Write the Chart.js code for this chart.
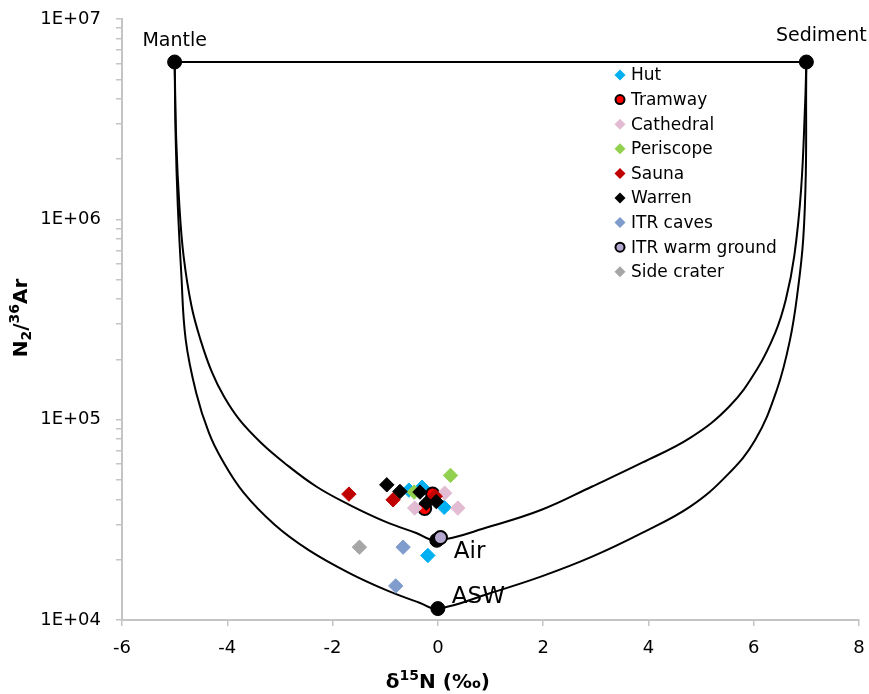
<!DOCTYPE html>
<html>
<head>
<meta charset="utf-8">
<script src="https://cdn.jsdelivr.net/npm/chart.js@4.4.1/dist/chart.umd.min.js"></script>
<style>
  html, body { margin: 0; padding: 0; background: #fff; }
  #wrap { width: 869px; height: 694px; }
</style>
</head>
<body>
<div id="wrap"><canvas id="c" width="869" height="694"></canvas></div>
<script>
// δ15N (‰) / N2/36Ar
const hutX = [-0.55, -0.3, 0.12, -0.19];
const hutY = [4.45e4, 4.6e4, 3.65e4, 2.1e4];
const tramwayX = [-0.1, -0.25];
const tramwayY = [4.25e4, 3.6e4];
const cathedralX = [-0.44, 0.13, 0.38];
const cathedralY = [3.62e4, 4.3e4, 3.62e4];
const periscopeX = [0.24, -0.45];
const periscopeY = [5.27e4, 4.35e4];
const saunaX = [-1.69, -0.85, -0.05];
const saunaY = [4.25e4, 3.98e4, 4.15e4];
const warrenX = [-0.97, -0.72, -0.34, -0.22, -0.03];
const warrenY = [4.73e4, 4.38e4, 4.35e4, 3.83e4, 3.9e4];
const itrCavesX = [-0.66, -0.8];
const itrCavesY = [2.31e4, 1.48e4];
const itrWarmX = [0.05];
const itrWarmY = [2.58e4];
const sideCraterX = [-1.49];
const sideCraterY = [2.31e4];

// end members
const endNames = ["Mantle", "Sediment", "Air", "ASW"];
const endX = [-5, 7, -0.02, 0];
const endY = [6.1e6, 6.1e6, 2.5e4, 1.14e4];

// mixing curves
const airCurveX = [-5, -4.97, -4.91, -4.83, -4.68, -4.51, -4.29, -4.06, -3.77, -3.36, -2.92, -2.31, -1.68, -1.0, -0.41, -0.02,
  0.99, 1.97, 2.93, 3.88, 4.8, 5.54, 6.06, 6.41, 6.61, 6.77, 6.9, 6.975, 7];
const airCurveY = [6.1e6, 2.51e6, 1.17e6, 6.55e5, 3.69e5, 2.51e5, 1.72e5, 1.30e5, 1.0e5, 7.67e4, 6.10e4, 4.64e4, 3.76e4, 3.10e4, 2.72e4, 2.5e4,
  2.93e4, 3.55e4, 4.64e4, 6.10e4, 8.13e4, 1.166e5, 1.78e5, 2.72e5, 3.98e5, 6.55e5, 1.41e6, 3.69e6, 6.1e6];
const aswCurveX = [-5, -4.98, -4.94, -4.875, -4.79, -4.59, -4.35, -4.10, -3.69, -3.10, -2.46, -1.69, -0.98, -0.35, 0,
  0.99, 1.97, 2.93, 3.88, 4.8, 5.5, 6.03, 6.44, 6.69, 6.84, 6.94, 6.99, 6.996, 7];
const aswCurveY = [6.1e6, 2.51e6, 1.17e6, 5.43e5, 2.51e5, 1.36e5, 8.61e4, 6.31e4, 4.32e4, 2.99e4, 2.24e4, 1.72e4, 1.41e4, 1.22e4, 1.14e4,
  1.36e4, 1.65e4, 2.07e4, 2.72e4, 3.69e4, 5.3e4, 7.94e4, 1.41e5, 2.51e5, 4.47e5, 7.94e5, 1.72e6, 4.47e6, 6.1e6];
const topLineX = [-5, 7];
const topLineY = [6.1e6, 6.1e6];

// axes
const xTicks = [-6, -4, -2, 0, 2, 4, 6, 8];
const yMajor = [1e4, 1e5, 1e6, 1e7];
const yTickLabels = ["1E+04", "1E+05", "1E+06", "1E+07"];
const yMinorSteps = [2, 3, 4, 5, 6, 7, 8, 9];

const FONT = "'DejaVu Sans', Verdana, sans-serif";
const pts = (xs, ys) => xs.map((x, i) => ({ x, y: ys[i] }));

const series = [
  { label: "Hut", xs: hutX, ys: hutY, color: "#00b0f0", style: "rectRot" },
  { label: "Tramway", xs: tramwayX, ys: tramwayY, color: "#ff0000", style: "circle" },
  { label: "Cathedral", xs: cathedralX, ys: cathedralY, color: "#e2bcd3", style: "rectRot" },
  { label: "Periscope", xs: periscopeX, ys: periscopeY, color: "#92d050", style: "rectRot" },
  { label: "Sauna", xs: saunaX, ys: saunaY, color: "#c00000", style: "rectRot" },
  { label: "Warren", xs: warrenX, ys: warrenY, color: "#000000", style: "rectRot" },
  { label: "ITR caves", xs: itrCavesX, ys: itrCavesY, color: "#7f9ccc", style: "rectRot" },
  { label: "ITR warm ground", xs: itrWarmX, ys: itrWarmY, color: "#b4a7d0", style: "circle" },
  { label: "Side crater", xs: sideCraterX, ys: sideCraterY, color: "#a6a6a6", style: "rectRot" },
];

function lineSet(xs, ys) {
  return {
    type: "line", data: pts(xs, ys), showLine: true, borderColor: "#000", borderWidth: 2,
    pointRadius: 0, tension: 0.4, fill: false, order: 50,
  };
}

const datasets = [
  lineSet(airCurveX, airCurveY),
  lineSet(aswCurveX, aswCurveY),
  Object.assign(lineSet(topLineX, topLineY), { tension: 0, borderWidth: 1.8 }),
  {
    label: "end members", data: pts(endX, endY), pointStyle: "circle", pointRadius: 7,
    backgroundColor: "#000", borderColor: "#000", borderWidth: 1, order: 40,
  },
];
series.forEach((s, i) => {
  const circle = s.style === "circle";
  datasets.push({
    label: s.label, data: pts(s.xs, s.ys), pointStyle: s.style,
    pointRadius: circle ? 6.5 : 7.2, backgroundColor: s.color,
    borderColor: circle ? "#000" : s.color, borderWidth: circle ? 2 : 1, order: 20 - i,
  });
});

// labels next to the end members
const endLabelPlugin = {
  id: "endLabels",
  afterDatasetsDraw(chart) {
    const { ctx, scales: { x, y } } = chart;
    const offs = [[0, -21, "center", 19], [15, -26, "center", 19], [17, 12, "left", 23], [14, -12, "left", 23]];
    ctx.save();
    ctx.fillStyle = "#000";
    ctx.textBaseline = "middle";
    endNames.forEach((n, i) => {
      const [dx, dy, al, size] = offs[i];
      ctx.font = size + "px " + FONT;
      ctx.textAlign = al;
      ctx.fillText(n, x.getPixelForValue(endX[i]) + dx, y.getPixelForValue(endY[i]) + dy);
    });
    ctx.restore();
  },
};

// draws a run of [text, shift] parts, shift: 0 normal, 1 superscript, -1 subscript
function richText(ctx, parts, size) {
  const small = Math.round(size * 0.72);
  const widths = parts.map(([t, s]) => {
    ctx.font = "bold " + (s ? small : size) + "px " + FONT;
    return ctx.measureText(t).width;
  });
  let cx = -widths.reduce((a, b) => a + b, 0) / 2;
  parts.forEach(([t, s], i) => {
    ctx.font = "bold " + (s ? small : size) + "px " + FONT;
    ctx.fillText(t, cx, s === 1 ? -size * 0.33 : s === -1 ? size * 0.25 : 0);
    cx += widths[i];
  });
}

const axisTitlePlugin = {
  id: "axisTitles",
  afterDraw(chart) {
    const { ctx, scales: { x } } = chart;
    ctx.save();
    ctx.fillStyle = "#000";
    ctx.textAlign = "left";
    ctx.textBaseline = "middle";
    ctx.translate(x.getPixelForValue(0), 683);
    richText(ctx, [["δ", 0], ["15", 1], ["N (‰)", 0]], 20);
    ctx.restore();
    ctx.save();
    ctx.fillStyle = "#000";
    ctx.textAlign = "left";
    ctx.textBaseline = "middle";
    ctx.translate(22, 318);
    ctx.rotate(-Math.PI / 2);
    richText(ctx, [["N", 0], ["2", -1], ["/", 0], ["36", 1], ["Ar", 0]], 20);
    ctx.restore();
  },
};

// legend drawn inside the plot area, Excel style
const legendPlugin = {
  id: "insideLegend",
  afterDraw(chart) {
    const ctx = chart.ctx;
    const x0 = 620, y0 = 75, step = 24.6;
    ctx.save();
    ctx.font = "17px " + FONT;
    ctx.textAlign = "left";
    ctx.textBaseline = "middle";
    series.forEach((s, i) => {
      const cy = y0 + i * step;
      ctx.fillStyle = s.color;
      ctx.beginPath();
      if (s.style === "circle") {
        ctx.arc(x0, cy, 4.5, 0, Math.PI * 2);
        ctx.fill();
        ctx.lineWidth = 2;
        ctx.strokeStyle = "#000";
        ctx.stroke();
      } else {
        ctx.moveTo(x0, cy - 5.5); ctx.lineTo(x0 + 5.5, cy); ctx.lineTo(x0, cy + 5.5); ctx.lineTo(x0 - 5.5, cy);
        ctx.closePath();
        ctx.fill();
      }
      ctx.fillStyle = "#000";
      ctx.fillText(s.label, x0 + 11, cy + 1);
    });
    ctx.restore();
  },
};

new Chart(document.getElementById("c"), {
  type: "scatter",
  data: { datasets },
  options: {
    responsive: false,
    animation: false,
    layout: { padding: { top: 19, right: 10, left: 0, bottom: 0 } },
    plugins: { legend: { display: false }, tooltip: { enabled: false } },
    scales: {
      x: {
        type: "linear", min: -6, max: 8,
        afterBuildTicks: (s) => { s.ticks = xTicks.map((v) => ({ value: v })); },
        afterFit: (s) => { s.height = 74; s.paddingLeft = 0; s.paddingRight = 0; },
        grid: { drawOnChartArea: false, tickLength: 6, color: "#c4c4c4", lineWidth: 1.5 },
        border: { color: "#c4c4c4", width: 2 },
        ticks: { color: "#000", font: { family: FONT, size: 18 }, padding: 12 },
      },
      y: {
        type: "logarithmic", min: 1e4, max: 1e7,
        afterBuildTicks: (s) => {
          const t = [];
          yMajor.forEach((m, i) => {
            t.push({ value: m, major: true });
            if (i < yMajor.length - 1) yMinorSteps.forEach((k) => t.push({ value: m * k }));
          });
          s.ticks = t;
        },
        afterFit: (s) => { s.width = 122; s.paddingTop = 0; s.paddingBottom = 0; },
        grid: { drawOnChartArea: false, tickLength: 6, color: "#c4c4c4", lineWidth: 1.5 },
        border: { color: "#c4c4c4", width: 2 },
        ticks: {
          color: "#000", font: { family: FONT, size: 18 }, padding: 15, autoSkip: false,
          callback: (v) => { const i = yMajor.indexOf(v); return i >= 0 ? yTickLabels[i] : ""; },
        },
      },
    },
  },
  plugins: [endLabelPlugin, axisTitlePlugin, legendPlugin],
});
</script>
</body>
</html>
